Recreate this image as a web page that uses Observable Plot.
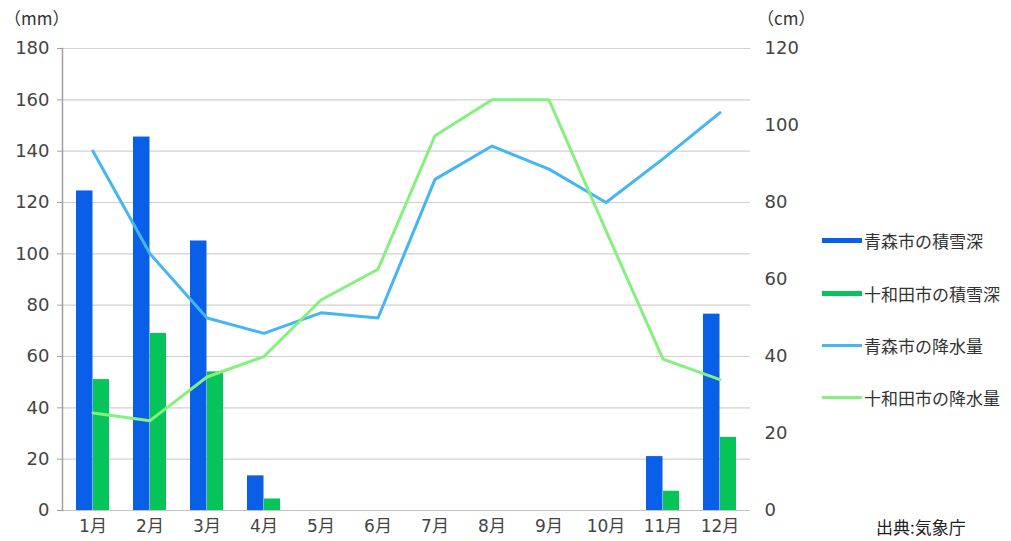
<!DOCTYPE html>
<html><head><meta charset="utf-8">
<script src="https://cdn.jsdelivr.net/npm/d3@7"></script>
<script src="https://cdn.jsdelivr.net/npm/@observablehq/plot@0.6"></script>
<style>
body{margin:0;background:#fff;font-family:"Noto Sans CJK JP","Noto Sans",sans-serif;}
#wrap{position:relative;width:1011px;height:541px;overflow:hidden;}
#wrap svg{position:absolute;left:0;top:0;}
.lab{position:absolute;color:#333;font-size:17px;white-space:nowrap;line-height:1;}
.leg{position:absolute;left:822px;display:flex;align-items:center;font-size:17px;color:#333;white-space:nowrap;}
.sw{width:40px;margin-right:2px;}
</style></head><body><div id="wrap">
<div class="lab" style="left:4px;top:9px;">（mm）</div>
<div class="lab" style="left:757px;top:9px;">（cm）</div>
<div id="legend"></div>
<div class="lab" style="left:876px;top:518px;font-size:17px;color:#222;">出典:気象庁</div>
</div>
<script>
const months = ["1月","2月","3月","4月","5月","6月","7月","8月","9月","10月","11月","12月"];
const aomoriSnow = [83,97,70,9,0,0,0,0,0,0,14,51];      // cm
const towadaSnow = [34,46,36,3,0,0,0,0,0,0,5,19];       // cm
const aomoriPrecip = [140,100,75,69,77,75,129,142,133,120,137,155]; // mm
const towadaPrecip = [38,35,52,60,82,94,146,160,160,109,59,51];     // mm
const seriesNames = ["青森市の積雪深","十和田市の積雪深","青森市の降水量","十和田市の降水量"];
const seriesColors = ["#0a5fe8","#06c45a","#45b5f4","#84f07e"];
const mmTicks = [0,20,40,60,80,100,120,140,160,180];
const cmTicks = [0,20,40,60,80,100,120];

const K = 180/120; // cm -> shared (mm) scale
const rows = months.map((m,i)=>({month:m, aSnow:aomoriSnow[i]*K, tSnow:towadaSnow[i]*K, aPre:aomoriPrecip[i], tPre:towadaPrecip[i]}));
const font = '"DejaVu Sans","Noto Sans CJK JP",sans-serif';

const chart = Plot.plot({
  width:1011, height:541,
  marginTop:48, marginBottom:31, marginLeft:62, marginRight:261,
  style:{fontFamily:font, fontSize:"18px", color:"#444", background:"transparent"},
  x:{domain:months, padding:0, label:null},
  y:{domain:[0,180], label:null},
  marks:[
    Plot.gridY(mmTicks, {stroke:"#d0d0d0", strokeOpacity:1, strokeWidth:1.2}),
    Plot.ruleY([0], {stroke:"#c4c4c4", strokeWidth:1.2}),
    Plot.barY(rows, {x:"month", y:"aSnow", fill:seriesColors[0], insetLeft:12, insetRight:28.5}),
    Plot.barY(rows, {x:"month", y:"tSnow", fill:seriesColors[1], insetLeft:29, insetRight:12}),
    Plot.lineY(rows, {x:"month", y:"aPre", stroke:seriesColors[2], strokeWidth:3}),
    Plot.lineY(rows, {x:"month", y:"tPre", stroke:seriesColors[3], strokeWidth:3}),
    Plot.frame({anchor:"left", stroke:"#a0a0a0", strokeWidth:1.5}),
    Plot.axisY(mmTicks, {anchor:"left", tickSize:5, tickPadding:8, stroke:"#a0a0a0", fill:"#444", fontSize:18, label:null}),
    Plot.axisY(cmTicks.map(v=>v*K), {anchor:"right", tickSize:0, tickPadding:14, textAnchor:"start", fill:"#444", fontSize:18, tickFormat:d=>String(Math.round(d/K)), label:null}),
    Plot.axisX({tickSize:0, tickPadding:9, fill:"#444", fontSize:17, label:null})
  ]
});
document.getElementById("wrap").prepend(chart);

const legendTops = [240,293,345,397];
const legend = document.getElementById("legend");
seriesNames.forEach((n,i)=>{
  const d = document.createElement("div");
  d.className = "leg";
  d.style.top = (legendTops[i]-12) + "px";
  d.innerHTML = `<span class="sw" style="height:${i<2?5:3}px;background:${seriesColors[i]}"></span><span>${n}</span>`;
  legend.appendChild(d);
});
</script></body></html>
